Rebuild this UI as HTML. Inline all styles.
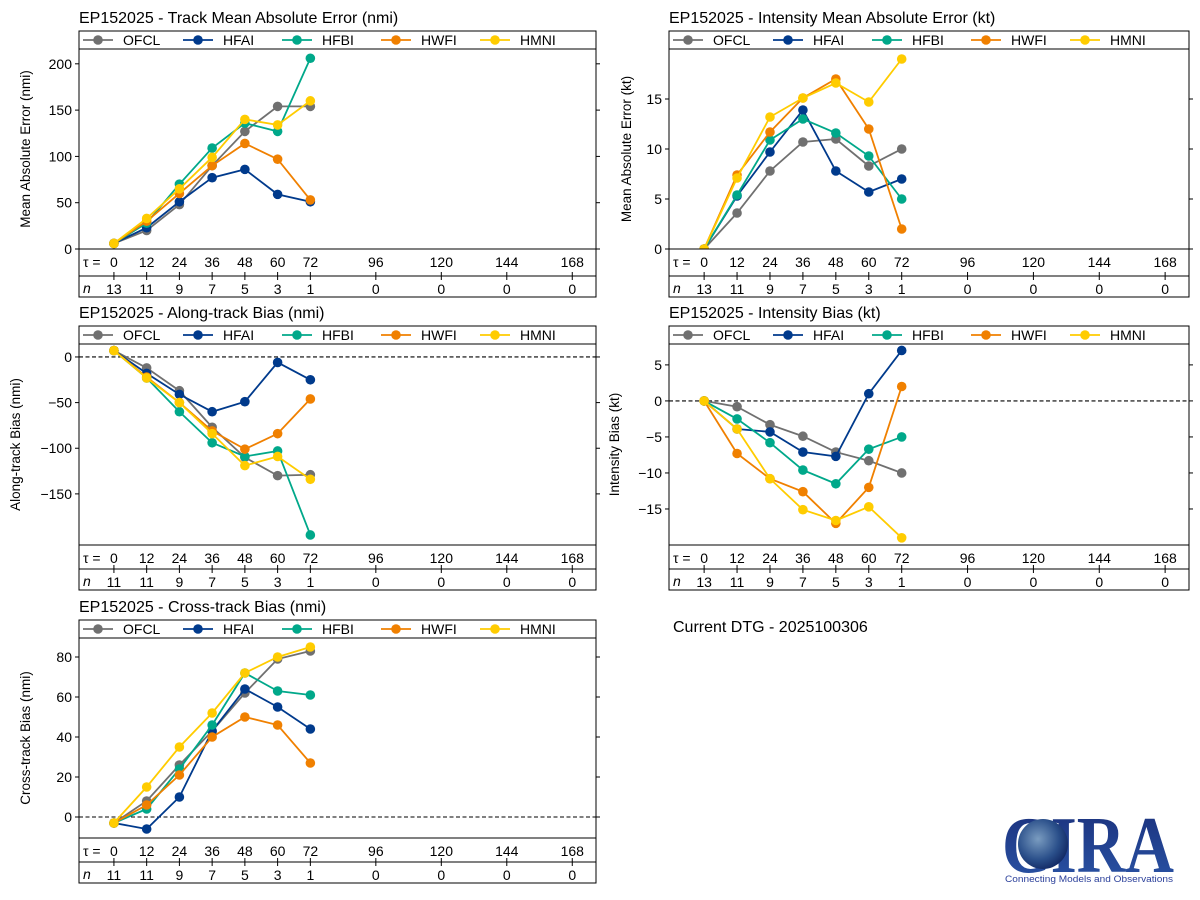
<!DOCTYPE html>
<html><head><meta charset="utf-8"><style>
body{margin:0;background:#fff;}
svg{display:block;font-family:"Liberation Sans","DejaVu Sans",sans-serif;}
</style></head><body>
<svg id="fig" width="1200" height="900" viewBox="0 0 1200 900" xmlns="http://www.w3.org/2000/svg">
<rect width="1200" height="900" fill="#fff"/>
<text x="673" y="632" font-size="16">Current DTG - 2025100306</text>
<g>
<defs><radialGradient id="gl" cx="0.4" cy="0.4" r="0.7"><stop offset="0" stop-color="#7a9cc0"/><stop offset="0.6" stop-color="#2a4f8a"/><stop offset="1" stop-color="#0c1f5a"/></radialGradient>
<linearGradient id="sp" x1="0" y1="0" x2="0" y2="1"><stop offset="0" stop-color="#1a2f7a"/><stop offset="1" stop-color="#2b56a8"/></linearGradient></defs>
<text x="1002" y="872" font-family="Liberation Serif,serif" font-weight="bold" font-size="80" fill="url(#sp)" textLength="172" lengthAdjust="spacingAndGlyphs">CIRA</text>
<circle cx="1043" cy="844" r="25" fill="url(#gl)"/>
<text x="1005" y="882" font-size="9" fill="#2a3f9a" textLength="168" lengthAdjust="spacingAndGlyphs">Connecting Models and Observations</text>
</g>
</svg>
<script>
const taus=[0,12,24,36,48,60,72];
const tauTicks=[0,12,24,36,48,60,72,96,120,144,168];
const nCounts1=[13,11,9,7,5,3,1,0,0,0,0];
const nCounts2=[11,11,9,7,5,3,1,0,0,0,0];
const models=["OFCL","HFAI","HFBI","HWFI","HMNI"];
const colors=["#707070","#003a8c","#00a88a","#f08000","#ffcc00"];
const trackOFCL=[6,20,48,90,127,154,154];
const trackHFAI=[6,23,51,77,86,59,51];
const trackHFBI=[6,28,70,109,136,127,206];
const trackHWFI=[6,30,60,90,114,97,53];
const trackHMNI=[6,33,65,99,140,134,160];
const intOFCL=[0,3.6,7.8,10.7,11.0,8.3,10.0];
const intHFAI=[0,5.3,9.7,13.9,7.8,5.7,7.0];
const intHFBI=[0,5.4,10.9,13.0,11.6,9.3,5.0];
const intHWFI=[0,7.4,11.7,15.1,17.0,12.0,2.0];
const intHMNI=[0,7.1,13.2,15.1,16.6,14.7,19.0];
const alongOFCL=[7,-12,-37,-77,-110,-130,-129];
const alongHFAI=[7,-18,-41,-60,-49,-6,-25];
const alongHFBI=[7,-23,-60,-94,-109,-103,-195];
const alongHWFI=[7,-22,-50,-81,-101,-84,-46];
const alongHMNI=[7,-23,-50,-84,-119,-109,-134];
const ibOFCL=[0,-0.8,-3.3,-4.9,-7.1,-8.3,-10];
const ibHFAI=[0,-3.9,-4.3,-7.1,-7.7,1.0,7.0];
const ibHFBI=[0,-2.5,-5.8,-9.6,-11.5,-6.7,-5.0];
const ibHWFI=[0,-7.3,-10.8,-12.6,-17.0,-12.0,2.0];
const ibHMNI=[0,-3.9,-10.8,-15.1,-16.6,-14.7,-19.0];
const crossOFCL=[-3,8,26,43,62,79,83];
const crossHFAI=[-3,-6,10,43,64,55,44];
const crossHFBI=[-3,4,24,46,72,63,61];
const crossHWFI=[-3,6,21,40,50,46,27];
const crossHMNI=[-3,15,35,52,72,80,85];
const yTicks1=[0,50,100,150,200];
const yTicks2=[0,5,10,15];
const yTicks3=[0,-50,-100,-150];
const yTicks4=[5,0,-5,-10,-15];
const yTicks5=[0,20,40,60,80];

const NS="http://www.w3.org/2000/svg";
const svg=document.getElementById('fig');
function mk(tag,attrs,parent,txt){const e=document.createElementNS(NS,tag);for(const k in attrs)e.setAttribute(k,attrs[k]);if(txt!==undefined)e.textContent=txt;(parent||svg).appendChild(e);return e;}
function fmt(v){return v<0?"\u2212"+(-v):String(v);}

function panel(cfg){
  const g=mk('g',{});
  
  
  const L=cfg.l,R=cfg.r,T=cfg.top,LB=T+18,PB=LB+cfg.ph,TB=PB+cfg.tauH,NB=TB+21;
  const xs=t=>L+(t+12.8)/189.5*(R-L);
  const ys=v=>LB+(cfg.ymax-v)/(cfg.ymax-cfg.ymin)*(PB-LB);
  const title=mk('text',{x:L,y:T-8,'font-size':16},g,cfg.title);
  
  
  cfg.yt.forEach(v=>{const y=ys(v);
    mk('line',{x1:L-4,x2:L,y1:y,y2:y,stroke:'#000'},g);
    mk('line',{x1:R,x2:R+4,y1:y,y2:y,stroke:'#000'},g);
    const t=mk('text',{x:L-7,y:y+5,'font-size':14,'text-anchor':'end'},g,fmt(v));
    
    
  });
  const yl=mk('text',{x:0,y:0,'font-size':13.5,'text-anchor':'middle',transform:`translate(${cfg.ylx},${(LB+PB)/2}) rotate(-90)`},g,cfg.ylabel);
  
  
  if(cfg.zero){mk('line',{x1:L,x2:R,y1:ys(0),y2:ys(0),stroke:'#000','stroke-dasharray':'4,2.5','stroke-width':1.1},g);}
  const clip='c'+cfg.name;
  const cp=mk('clipPath',{id:clip},g);mk('rect',{x:L,y:LB,width:R-L,height:PB-LB},cp);
  cfg.series.forEach((s,i)=>{
    const sg=mk('g',{'clip-path':`url(#${clip})`},g);
    
    
    mk('polyline',{points:s.map((v,j)=>xs(taus[j])+','+ys(v)).join(' '),fill:'none',stroke:colors[i],'stroke-width':1.8},sg);
    s.forEach((v,j)=>{const c=mk('circle',{cx:xs(taus[j]),cy:ys(v),r:4.8,fill:colors[i]},sg);
      
      });
  });
  mk('rect',{x:L,y:T,width:R-L,height:NB-T,fill:'none',stroke:'#000','stroke-width':1},g);
  [LB,PB,TB].forEach(y=>mk('line',{x1:L,x2:R,y1:y,y2:y,stroke:'#000'},g));
  models.forEach((m,i)=>{const lx=L+4+i*100+(i>=2?(i-1)*-1:0);const cy=T+9;
    const lg=mk('g',{},g);
    
    
    mk('line',{x1:lx,x2:lx+30,y1:cy,y2:cy,stroke:colors[i],'stroke-width':1.8},lg);
    mk('circle',{cx:lx+15,cy:cy,r:4.8,fill:colors[i]},lg);
    mk('text',{x:lx+40,y:cy+5,'font-size':14},lg,m);
  });
  const tl=mk('text',{x:L+4,y:PB+18,'font-size':14},g,'τ =');
  
  
  const nl=mk('text',{x:L+4,y:TB+17,'font-size':14,'font-style':'italic'},g,'n');
  
  
  tauTicks.forEach((t,j)=>{const x=xs(t);
    mk('line',{x1:x,x2:x,y1:TB-4,y2:TB,stroke:'#000'},g);
    mk('line',{x1:x,x2:x,y1:TB,y2:TB+4,stroke:'#000'},g);
    const a=mk('text',{x:x,y:PB+18,'font-size':14,'text-anchor':'middle'},g,String(t));
    
    
    const b=mk('text',{x:x,y:TB+18,'font-size':14,'text-anchor':'middle'},g,String(cfg.n[j]));
    
    
  });
}
panel({name:'track-mae-panel',title:'EP152025 - Track Mean Absolute Error (nmi)',l:79,r:596,top:31,ph:200,tauH:27,ymin:0,ymax:216,yt:yTicks1,ylabel:'Mean Absolute Error (nmi)',ylx:30,n:nCounts1,zero:false,
  series:[trackOFCL,trackHFAI,trackHFBI,trackHWFI,trackHMNI]});
panel({name:'intensity-mae-panel',title:'EP152025 - Intensity Mean Absolute Error (kt)',l:669,r:1189,top:31,ph:200,tauH:27,ymin:0,ymax:20,yt:yTicks2,ylabel:'Mean Absolute Error (kt)',ylx:631,n:nCounts1,zero:false,
  series:[intOFCL,intHFAI,intHFBI,intHWFI,intHMNI]});
panel({name:'along-track-panel',title:'EP152025 - Along-track Bias (nmi)',l:79,r:596,top:326,ph:201,tauH:24,ymin:-206,ymax:14.2,yt:yTicks3,ylabel:'Along-track Bias (nmi)',ylx:20,n:nCounts2,zero:true,
  series:[alongOFCL,alongHFAI,alongHFBI,alongHWFI,alongHMNI]});
panel({name:'intensity-bias-panel',title:'EP152025 - Intensity Bias (kt)',l:669,r:1189,top:326,ph:201,tauH:24,ymin:-20,ymax:7.9,yt:yTicks4,ylabel:'Intensity Bias (kt)',ylx:619,n:nCounts1,zero:true,
  series:[ibOFCL,ibHFAI,ibHFBI,ibHWFI,ibHMNI]});
panel({name:'cross-track-panel',title:'EP152025 - Cross-track Bias (nmi)',l:79,r:596,top:620,ph:200,tauH:24,ymin:-10.5,ymax:89.5,yt:yTicks5,ylabel:'Cross-track Bias (nmi)',ylx:30,n:nCounts2,zero:true,
  series:[crossOFCL,crossHFAI,crossHFBI,crossHWFI,crossHMNI]});
</script>
</body></html>
